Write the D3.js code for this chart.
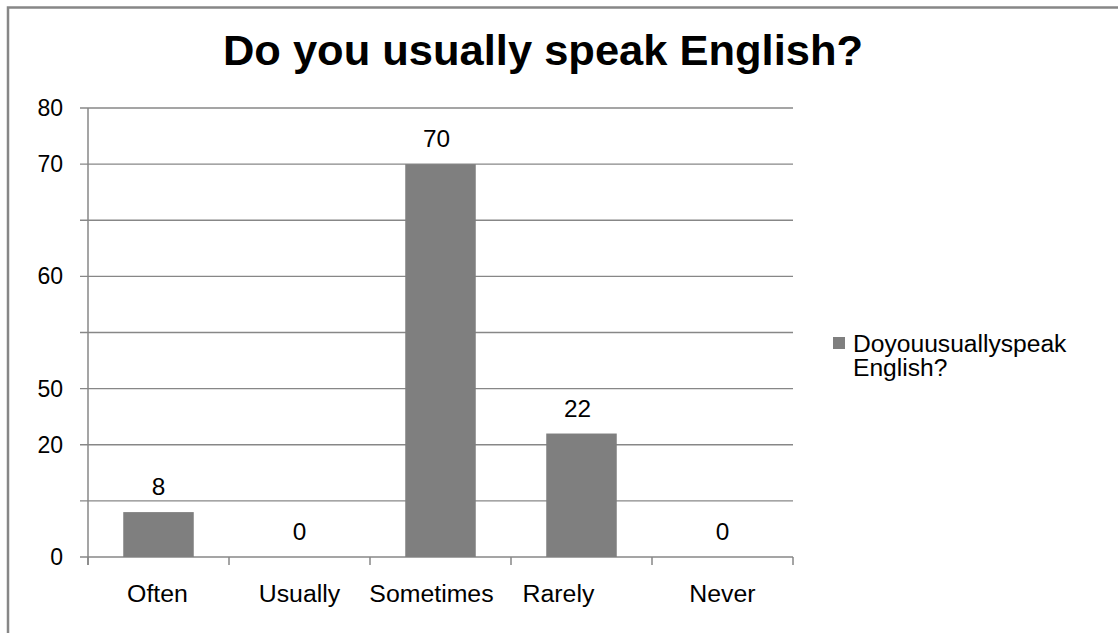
<!DOCTYPE html>
<html><head><meta charset="utf-8">
<script src="https://cdn.jsdelivr.net/npm/d3@7"></script>
<style>html,body{margin:0;padding:0;background:#fff;}svg{display:block;}</style>
</head><body>
<script>
const categories = ["Often","Usually","Sometimes","Rarely","Never"];
const values = [8,0,70,22,0];
const tickValues = [0,10,20,30,40,50,60,70,80];
const tickLabels = ["0","","20","50","","60","","70","80"];
const title = "Do you usually speak English?";
const seriesName = ["Doyouusuallyspeak","English?"];

const W=1118,H=633;
const svg=d3.select("body").append("svg").attr("width",W).attr("height",H);
const font="Liberation Sans, Arial, sans-serif";
const gray="#878787";
function stretch(sel,k){sel.each(function(){const l=this.getComputedTextLength();this.setAttribute("textLength",l*k);this.setAttribute("lengthAdjust","spacingAndGlyphs");});}

// frame
svg.append("path").attr("d","M8,633 L8,7.5 L1118,7.5").attr("fill","none").attr("stroke",gray).attr("stroke-width",2.5);

const x=d3.scaleBand().domain(categories).range([88,793]).paddingInner(0.5).paddingOuter(0.25);
const y=d3.scaleLinear().domain([0,80]).range([557,108]);

// gridlines
svg.append("g").selectAll("line").data(tickValues).join("line")
  .attr("x1",80).attr("x2",793).attr("y1",d=>y(d)).attr("y2",d=>y(d))
  .attr("stroke",gray).attr("stroke-width",1.3);

// y axis line
svg.append("line").attr("x1",88).attr("x2",88).attr("y1",108).attr("y2",565).attr("stroke",gray).attr("stroke-width",1.5);

// x ticks at band boundaries
const bounds=d3.range(categories.length+1).map(i=>88+i*(705/categories.length));
svg.append("g").selectAll("line").data(bounds).join("line")
  .attr("x1",d=>d).attr("x2",d=>d).attr("y1",557).attr("y2",565)
  .attr("stroke",gray).attr("stroke-width",1.5);

// y tick labels
svg.append("g").selectAll("text").data(tickValues).join("text")
  .attr("x",63).attr("y",d=>y(d)).attr("dy","0.35em").attr("text-anchor","end")
  .attr("font-family",font).attr("font-size",23).attr("fill","#000")
  .text((d,i)=>tickLabels[i]);

// bars
svg.append("g").selectAll("rect").data(values).join("rect")
  .attr("x",(d,i)=>x(categories[i])).attr("width",x.bandwidth())
  .attr("y",d=>y(d)).attr("height",d=>y(0)-y(d)).attr("fill","#7f7f7f");

// value labels
const valueDx=[0,0,-4,-4,0];
svg.append("g").selectAll("text").data(values).join("text")
  .attr("x",(d,i)=>x(categories[i])+x.bandwidth()/2+valueDx[i]).attr("y",d=>y(d)-25).attr("dy","0.35em")
  .attr("text-anchor","middle").attr("font-family",font).attr("font-size",23).attr("fill","#000")
  .text(d=>d).call(stretch,1.06);

// category labels (layout nudges as in the original)
const labelDx=[-1,0,-9,-23,0];
svg.append("g").selectAll("text").data(categories).join("text")
  .attr("x",(d,i)=>x(d)+x.bandwidth()/2+labelDx[i]).attr("y",602).attr("text-anchor","middle")
  .attr("font-family",font).attr("font-size",23).attr("fill","#000")
  .text(d=>d).call(stretch,1.08);

// title
svg.append("text").attr("x",543).attr("y",65).attr("text-anchor","middle")
  .attr("font-family",font).attr("font-weight","bold").attr("font-size",42).attr("fill","#000")
  .text(title).call(stretch,1.035);

// legend
svg.append("rect").attr("x",833).attr("y",337).attr("width",12).attr("height",12).attr("fill","#7f7f7f");
svg.append("g").selectAll("text").data(seriesName).join("text")
  .attr("x",853).attr("y",(d,i)=>344+i*24).attr("dy","0.35em")
  .attr("font-family",font).attr("font-size",23).attr("fill","#000").text(d=>d).call(stretch,1.07);
</script>
</body></html>
